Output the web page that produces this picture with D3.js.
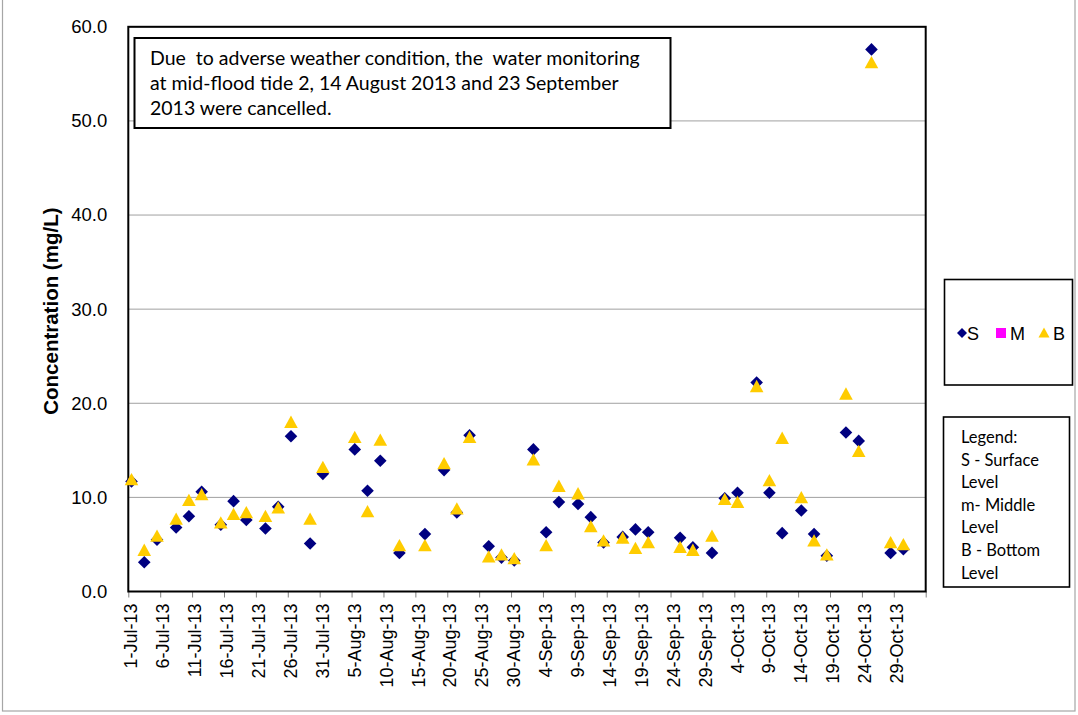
<!DOCTYPE html>
<html><head><meta charset="utf-8">
<script src="https://cdn.jsdelivr.net/npm/d3@7"></script>
<style>body{margin:0;background:#fff}svg{display:block}</style>
</head><body>
<svg id="c" width="1078" height="715"></svg>
<script>
const dates = ["1-Jul-13","3-Jul-13","5-Jul-13","8-Jul-13","10-Jul-13","12-Jul-13","15-Jul-13","17-Jul-13","19-Jul-13","22-Jul-13","24-Jul-13","26-Jul-13","29-Jul-13","31-Jul-13","5-Aug-13","7-Aug-13","9-Aug-13","12-Aug-13","16-Aug-13","19-Aug-13","21-Aug-13","23-Aug-13","26-Aug-13","28-Aug-13","30-Aug-13","2-Sep-13","4-Sep-13","6-Sep-13","9-Sep-13","11-Sep-13","13-Sep-13","16-Sep-13","18-Sep-13","20-Sep-13","25-Sep-13","27-Sep-13","30-Sep-13","2-Oct-13","4-Oct-13","7-Oct-13","9-Oct-13","11-Oct-13","14-Oct-13","16-Oct-13","18-Oct-13","21-Oct-13","23-Oct-13","25-Oct-13","28-Oct-13","30-Oct-13"];
const surface = [11.7,3.1,5.5,6.8,8.0,10.6,7.1,9.6,7.6,6.7,9.0,16.5,5.1,12.5,15.1,10.7,13.9,4.1,6.1,12.9,8.4,16.6,4.8,3.6,3.3,15.1,6.3,9.5,9.3,7.9,5.2,5.8,6.6,6.3,5.7,4.7,4.1,9.9,10.5,22.2,10.5,6.2,8.6,6.1,3.8,16.9,16.0,57.6,4.1,4.5];
const middle = [];
const bottom = [11.9,4.4,5.9,7.7,9.7,10.3,7.3,8.2,8.4,8.0,8.9,18.0,7.7,13.2,16.4,8.5,16.1,4.9,4.9,13.6,8.8,16.4,3.7,3.9,3.5,14.0,4.9,11.2,10.4,6.9,5.4,5.7,4.6,5.2,4.7,4.4,5.9,9.8,9.5,21.8,11.8,16.3,10.0,5.4,3.9,21.0,14.9,56.2,5.2,5.0];
const xTickLabels = ["1-Jul-13","6-Jul-13","11-Jul-13","16-Jul-13","21-Jul-13","26-Jul-13","31-Jul-13","5-Aug-13","10-Aug-13","15-Aug-13","20-Aug-13","25-Aug-13","30-Aug-13","4-Sep-13","9-Sep-13","14-Sep-13","19-Sep-13","24-Sep-13","29-Sep-13","4-Oct-13","9-Oct-13","14-Oct-13","19-Oct-13","24-Oct-13","29-Oct-13"];
const yTicks = [0,10,20,30,40,50,60];
const xDomain = ["1-Jul-13","3-Nov-13"];
const yLabel = "Concentration (mg/L)";
const noteLines = ["Due  to adverse weather condition, the  water monitoring","at mid-flood tide 2, 14 August 2013 and 23 September","2013 were cancelled."];
const legendItems = ["S","M","B"];
const legendNote = ["Legend:","S - Surface","Level","m- Middle","Level","B - Bottom","Level"];

const parse = d3.timeParse("%d-%b-%y");
const svg = d3.select("#c");
const L = 128.3, R = 925.7, T = 26.8, B = 591.5;
const x = d3.scaleTime().domain(xDomain.map(parse)).range([L, R]);
const y = d3.scaleLinear().domain([0, 60]).range([B, T]);
const halfDay = d => d3.timeHour.offset(d, 12);

// outer chart border
svg.append("rect").attr("x",2.5).attr("y",-5).attr("width",1072.5).attr("height",716)
  .attr("fill","none").attr("stroke","#a6a6a6").attr("stroke-width",1.2);

// gridlines
svg.append("g").selectAll("line").data(yTicks.filter(v=>v>0)).join("line")
  .attr("x1",L).attr("x2",R).attr("y1",d=>y(d)).attr("y2",d=>y(d))
  .attr("stroke","#a0a0a0").attr("stroke-width",1);

// y axis labels
const yAxis = d3.axisLeft(y).tickValues(yTicks).tickFormat(d3.format(".1f")).tickSize(0).tickPadding(21);
const gy = svg.append("g").attr("transform",`translate(${L},0)`).call(yAxis);
gy.select(".domain").remove();
gy.selectAll("text").attr("font-family","Liberation Sans, Arial, sans-serif").attr("font-size",18.5).attr("fill","#000");

// x ticks (every 5 days, at band boundaries)
const tickDates = xTickLabels.map(parse).concat([parse(xDomain[1])]);
const xAxis = d3.axisBottom(x).tickValues(tickDates).tickSize(6).tickFormat("");
const gx = svg.append("g").attr("transform",`translate(0,${B})`).call(xAxis);
gx.select(".domain").remove();
gx.selectAll(".tick line").attr("stroke","#808080");
svg.append("g").selectAll("text").data(xTickLabels).join("text")
  .attr("transform", d => `translate(${x(halfDay(parse(d)))+6},${B+12}) rotate(-90)`)
  .attr("text-anchor","end")
  .attr("font-family","Liberation Sans, Arial, sans-serif").attr("font-size",18)
  .text(d=>d);

// plot frame
svg.append("rect").attr("x",L).attr("y",T).attr("width",R-L).attr("height",B-T)
  .attr("fill","none").attr("stroke","#000").attr("stroke-width",2);

// y label
svg.append("text").attr("transform",`translate(58,${(T+B)/2+2}) rotate(-90)`)
  .attr("text-anchor","middle").attr("font-family","Liberation Sans, Arial, sans-serif")
  .attr("font-weight","bold").attr("font-size",20.5).text(yLabel);

// markers
const diamond = "M0,-6.3L6.3,0L0,6.3L-6.3,0Z";
const tri = "M0,-6.5L6.8,5.8L-6.8,5.8Z";
svg.append("g").selectAll("path").data(dates.map((d,i)=>({d:parse(d),v:surface[i]}))).join("path")
  .attr("d",diamond).attr("fill","#000080")
  .attr("transform",p=>`translate(${x(halfDay(p.d))},${y(p.v)})`);
svg.append("g").selectAll("path").data(dates.map((d,i)=>({d:parse(d),v:bottom[i]}))).join("path")
  .attr("d",tri).attr("fill","#FFCC00")
  .attr("transform",p=>`translate(${x(halfDay(p.d))},${y(p.v)})`);

// note box
svg.append("rect").attr("x",134.5).attr("y",38).attr("width",536).attr("height",90)
  .attr("fill","#fff").attr("stroke","#000").attr("stroke-width",2);
svg.append("g").selectAll("text").data(noteLines).join("text")
  .attr("x",150).attr("y",(d,i)=>65+i*25).attr("xml:space","preserve").style("white-space","pre")
  .attr("font-family","Lato, Carlito, Calibri, sans-serif").attr("font-size",19.5).text(d=>d);

// legend box 1
svg.append("rect").attr("x",944.5).attr("y",279.5).attr("width",128).attr("height",105.5)
  .attr("fill","#fff").attr("stroke","#000").attr("stroke-width",1.6);
const lg = svg.append("g");
const lx = [962, 1001, 1044];
lg.append("path").attr("d","M0,-5L5,0L0,5L-5,0Z").attr("fill","#000080").attr("transform",`translate(${lx[0]},333)`);
lg.append("rect").attr("x",lx[1]-5).attr("y",328).attr("width",10).attr("height",10).attr("fill","#FF00FF");
lg.append("path").attr("d","M0,-5.5L5.5,4.5L-5.5,4.5Z").attr("fill","#FFCC00").attr("transform",`translate(${lx[2]},333)`);
lg.selectAll("text").data(legendItems).join("text")
  .attr("x",(d,i)=>lx[i]+(i===1?9:(i===2?9:5))).attr("y",340)
  .attr("font-family","Liberation Sans, Arial, sans-serif").attr("font-size",18).text(d=>d);

// legend box 2
svg.append("rect").attr("x",943.5).attr("y",417).attr("width",126).attr("height",170)
  .attr("fill","#fff").attr("stroke","#000").attr("stroke-width",1.6);
svg.append("g").selectAll("text").data(legendNote).join("text")
  .attr("x",961).attr("y",(d,i)=>443+i*22.6)
  .attr("font-family","Lato, Carlito, Calibri, sans-serif").attr("font-size",16.5).text(d=>d);
</script>
</body></html>
